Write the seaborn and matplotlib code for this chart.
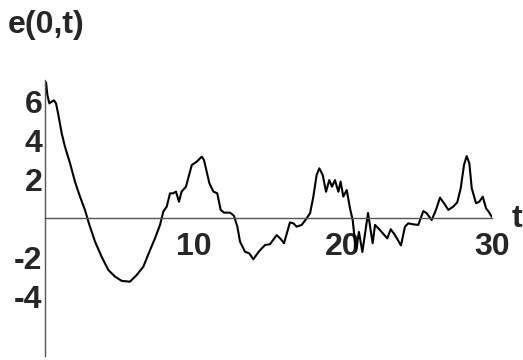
import matplotlib
matplotlib.use("Agg")
import matplotlib.pyplot as plt
import seaborn as sns
import pandas as pd

# e(0,t) samples
t = [0.07, 0.16, 0.29, 0.45, 0.6, 0.74, 0.9, 1.12, 1.34, 1.68,
     2.01, 2.35, 2.68, 2.98, 3.36, 3.8, 4.25, 4.7, 5.15, 5.7,
     6.15, 6.6, 7.05, 7.38, 7.72, 7.94, 8.17, 8.39, 8.61, 8.79,
     8.99, 9.17, 9.46, 9.85, 10.18, 10.52, 10.67, 11.03, 11.3, 11.56,
     11.79, 12.01, 12.42, 12.68, 12.91, 13.09, 13.42, 13.71, 13.98, 14.38,
     14.77, 15.1, 15.55, 15.82, 16.04, 16.44, 16.67, 16.89, 17.23, 17.56,
     17.79, 18.01, 18.23, 18.41, 18.64, 18.86, 19.08, 19.26, 19.46, 19.69,
     19.84, 20.02, 20.25, 20.47, 20.65, 20.87, 21.07, 21.3, 21.68, 21.99,
     22.15, 22.48, 22.97, 23.2, 23.49, 23.89, 24.16, 24.38, 24.72, 25.05,
     25.39, 25.62, 25.95, 26.24, 26.51, 26.78, 27.07, 27.4, 27.67, 27.9,
     28.12, 28.3, 28.48, 28.64, 28.93, 29.15, 29.38, 29.6, 29.75, 29.98]
e = [6.98, 6.33, 5.9, 5.99, 6.06, 5.9, 5.3, 4.37, 3.68, 2.83,
     1.89, 1.12, 0.44, -0.33, -1.19, -1.96, -2.64, -2.98, -3.2, -3.24,
     -2.9, -2.47, -1.62, -1.02, -0.33, 0.35, 0.61, 1.29, 1.29, 1.38,
     0.86, 1.38, 1.63, 2.74, 2.91, 3.17, 3.0, 1.81, 1.38, 1.29,
     0.44, 0.3, 0.3, 0.14, -0.42, -1.19, -1.7, -1.79, -2.09, -1.67,
     -1.36, -1.32, -0.85, -1.05, -1.27, -0.2, -0.25, -0.42, -0.33, 0.01,
     0.27, 1.12, 2.23, 2.57, 2.23, 1.37, 1.97, 1.63, 1.97, 1.37,
     1.89, 1.12, 1.46, 0.52, -0.08, -1.67, -0.69, -1.72, 0.28, -1.27,
     -0.33, -0.59, -1.02, -0.55, -0.85, -1.38, -0.42, -0.25, -0.3, -0.33,
     0.38, 0.27, -0.08, 0.44, 1.07, 0.78, 0.44, 0.61, 0.83, 1.55,
     2.74, 3.2, 2.83, 1.55, 0.78, 0.86, 1.12, 0.52, 0.38, 0.09]

xticks = [10, 20, 30]
yticks = [-4, -2, 2, 4, 6]

sns.set_style("white")
plt.rcParams["font.family"] = ["Liberation Sans", "DejaVu Sans"]
plt.rcParams["font.weight"] = "bold"

fig = plt.figure(figsize=(5.23, 3.60), dpi=100)
ax = fig.add_axes([45 / 523, 4 / 360, (492 - 45) / 523, (356 - 80) / 360])

df = pd.DataFrame({"t": t, "e": e})
sns.lineplot(data=df, x="t", y="e", ax=ax, color="black", linewidth=1.5,
             sort=False, estimator=None, solid_joinstyle="round",
             solid_capstyle="round")

ax.set_xlim(0, 30)
ax.set_ylim(-7.05, 7.1)
ax.set_xlabel("")
ax.set_ylabel("")

for side in ("top", "right"):
    ax.spines[side].set_visible(False)
ax.spines["bottom"].set_position(("data", 0))
ax.spines["left"].set_position(("data", 0))
for side in ("bottom", "left"):
    ax.spines[side].set_color("#555555")
    ax.spines[side].set_linewidth(1.0)

ax.set_xticks(xticks)
ax.set_yticks(yticks)
ax.set_xticklabels([str(v) for v in xticks], fontsize=23, fontweight="bold")
ax.set_yticklabels([str(v) for v in yticks], fontsize=23, fontweight="bold")
ax.tick_params(axis="x", direction="in", length=3, width=0.8, color="#555555", pad=10)
ax.tick_params(axis="y", direction="in", length=3, width=0.8, color="#555555", pad=2)

ax.text(31.35, -0.44, "t", fontsize=23, fontweight="bold", ha="left",
        va="baseline", clip_on=False)
fig.text(8 / 523, 1 - 33.5 / 360, "e(0,t)", fontsize=23, fontweight="bold",
         ha="left", va="baseline")

fig.savefig("out.png", dpi=100)
